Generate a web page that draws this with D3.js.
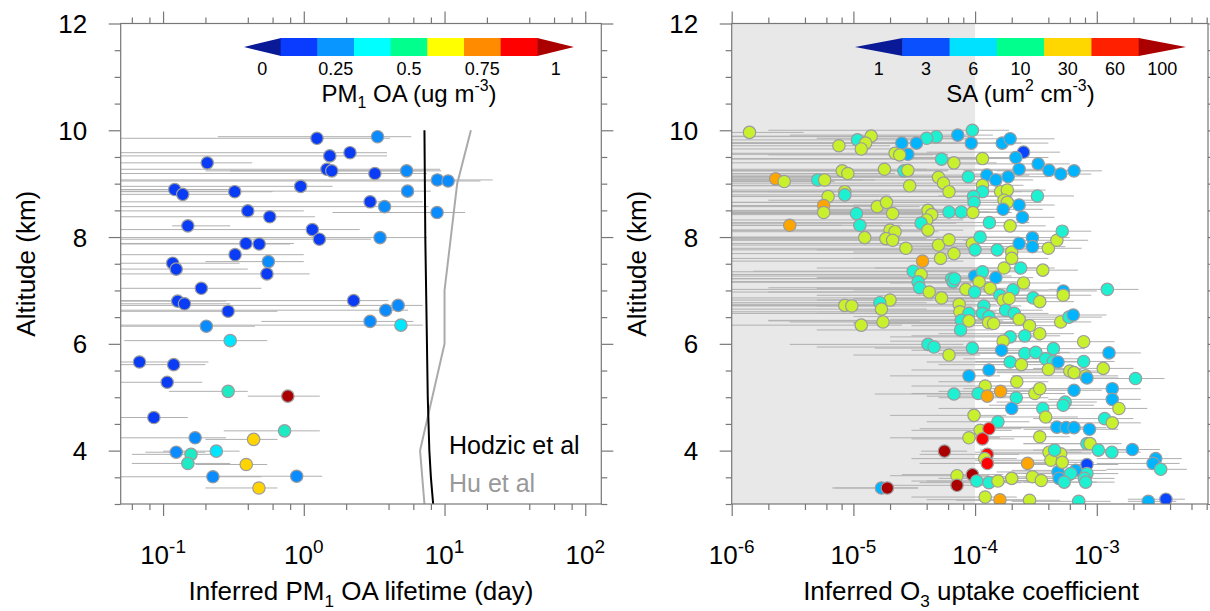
<!DOCTYPE html>
<html>
<head>
<meta charset="utf-8">
<script src="https://cdn.jsdelivr.net/npm/d3@7"></script>
<style>
body{margin:0;background:#fff}
text{font-family:"Liberation Sans",Arial,Helvetica,sans-serif}
</style>
</head>
<body>
<div id="chart"></div>
<script>
// axis ticks
var altMajor = [4, 6, 8, 10, 12];
var altMinor = [3, 3.5, 4.5, 5, 5.5, 6.5, 7, 7.5, 8.5, 9, 9.5, 10.5, 11, 11.5];
var lifeMajor = [0.1, 1, 10, 100];
var lifeExp = ["-1", "0", "1", "2"];
var lifeMinor = [0.06, 0.08, 0.2, 0.4, 0.6, 0.8, 2, 4, 6, 8, 20, 40, 60, 80];
var gammaMajor = [1e-6, 1e-5, 1e-4, 1e-3];
var gammaExp = ["-6", "-5", "-4", "-3"];
var gammaMinor = [2e-6, 4e-6, 6e-6, 8e-6, 2e-5, 4e-5, 6e-5, 8e-5, 2e-4, 4e-4, 6e-4, 8e-4, 2e-3, 4e-3, 6e-3, 8e-3];

// model lifetimes (day)
var hodzicAlt = [3, 3.5, 4, 5, 6, 8, 10];
var hodzicLife = [8.3, 8.0, 7.8, 7.6, 7.5, 7.3, 7.2];
var huAlt = [3, 4, 6, 7, 9, 10];
var huLife = [7.2, 6.7, 10, 10, 12.3, 15.4];

// colour bars
var oaBarColors = ["#0a1a96", "#0a3cff", "#0a96ff", "#00ffff", "#00ff8c", "#ffff00", "#ff8c00", "#ff0000", "#aa0000"];
var oaBarLabels = ["0", "", "0.25", "", "0.5", "", "0.75", "", "1"];
var oaBreaks = [0.06, 0.18, 0.3, 0.42, 0.56, 0.8, 0.9];
var oaDotColors = ["#0a1a96", "#0a3cf5", "#0a8cff", "#00e6ff", "#1eebc3", "#ffd400", "#ff1a00", "#aa0000"];
var saBarColors = ["#0a1a96", "#0a50ff", "#00e1ff", "#00ff8c", "#ffd700", "#ff2000", "#aa0000"];
var saBarLabels = ["1", "3", "6", "10", "30", "60", "100"];
var saBreaks = [2, 4, 7, 12, 35, 70, 110];
var saDotColors = ["#0a1a96", "#0a46ff", "#00b4ff", "#1ef0d2", "#c8f02d", "#ffa500", "#ff0000", "#aa0000"];

// [altitude km, OA lifetime day, low, high, PM1 OA ug m-3]
var oaObs = [
[9.85,1.24,0.01,4.1,0.12],[9.88,3.34,0.245,5.8,0.24],[9.58,2.13,0.01,3.9,0.12],[9.52,1.53,0.01,3.9,0.12],
[9.39,0.206,0.01,0.43,0.12],[9.27,1.46,0.01,9.3,0.12],[9.24,1.58,0.3,7,0.12],[9.19,3.2,0.01,7.5,0.12],
[9.24,5.38,0.2,9.5,0.24],[9.07,8.9,0.01,22,0.24],[9.05,10.6,0.01,18,0.24],[8.95,0.95,0.01,1.6,0.12],
[8.89,0.121,0.01,0.3,0.12],[8.80,0.138,0.01,0.35,0.12],[8.85,0.323,0.01,0.6,0.12],[8.86,5.46,0.01,8,0.24],
[8.66,2.96,0.01,7,0.12],[8.57,3.75,0.01,7.7,0.24],[8.46,8.85,1.6,14,0.24],[8.49,0.40,0.01,1.0,0.12],
[8.38,0.573,0.01,1.2,0.12],[8.21,0.150,0.116,0.3,0.12],[8.14,1.15,0.01,2.5,0.12],[7.96,1.29,0.01,3,0.12],
[7.99,3.48,0.01,7.5,0.24],[7.88,0.388,0.01,0.85,0.12],[7.87,0.482,0.01,0.8,0.12],[7.67,0.325,0.01,1.0,0.12],
[7.54,0.56,0.2,1.0,0.24],[7.51,0.117,0.01,0.35,0.12],[7.40,0.124,0.01,0.4,0.12],[7.31,0.547,0.01,1.1,0.12],
[7.04,0.187,0.01,0.5,0.12],[6.80,0.127,0.01,0.28,0.12],[6.75,0.142,0.01,0.3,0.12],[6.81,2.26,0.01,4,0.12],
[6.72,4.68,0.01,7,0.24],[6.63,3.82,0.01,5.5,0.24],[6.61,0.29,0.01,0.65,0.12],[6.42,2.96,0.5,6,0.24],
[6.35,4.9,0.01,7,0.36],[6.33,0.203,0.01,0.45,0.24],[6.06,0.30,0.053,0.55,0.36],[5.66,0.068,0.01,0.21,0.12],
[5.61,0.119,0.01,0.2,0.12],[5.28,0.107,0.01,0.19,0.12],[5.11,0.29,0.11,0.4,0.48],[5.02,0.77,0.4,1.3,0.96],
[4.62,0.086,0.01,0.15,0.12],[4.37,0.73,0.27,1.3,0.48],[4.24,0.169,0.01,0.28,0.24],[4.21,0.44,0.2,0.65,0.68],
[3.97,0.124,0.075,0.2,0.24],[3.93,0.158,0.06,0.25,0.48],[3.99,0.239,0.1,0.35,0.36],[3.76,0.150,0.06,0.3,0.48],
[3.74,0.39,0.17,0.55,0.68],[3.51,0.226,0.01,0.5,0.24],[3.52,0.89,0.25,1.35,0.24],[3.30,0.48,0.2,0.65,0.68]
];

// [altitude km, O3 uptake coefficient, low, high, SA um2 cm-3]
var o3Obs = [
[9.96,1.4e-6,1e-7,3.9e-6,20],[10.0,9.5e-5,2e-6,1.9e-4,9],[9.91,7.2e-5,3e-6,1.4e-4,5],[9.76,9.3e-5,1e-7,2.4e-4,5],
[9.88,4.8e-5,1e-7,9e-5,9],[9.85,4.0e-5,5e-6,8e-5,9],[9.76,3.3e-5,1e-7,7e-5,5],[9.76,2.5e-5,1e-7,5e-5,5],
[9.55,2.8e-5,1e-7,6e-5,5],[9.57,2.2e-5,1e-7,5e-5,20],[9.54,2.4e-5,2e-6,4.5e-5,20],[9.89,1.4e-5,1e-7,4e-5,20],
[9.82,1.08e-5,1e-7,3e-5,9],[9.76,1.26e-5,1e-7,3.5e-5,20],[9.65,1.16e-5,1e-7,3e-5,20],[9.71,7.6e-6,1e-7,2e-5,20],
[9.76,1.67e-4,2e-5,4e-4,5],[9.84,1.94e-4,3e-5,4.5e-4,5],[9.59,2.5e-4,4e-5,5e-4,3],[9.49,2.16e-4,2e-5,4e-4,5],
[9.27,2.3e-4,3e-5,5e-4,5],[9.37,3.3e-4,6e-5,6e-4,5],[9.25,4.05e-4,8e-5,7e-4,5],[9.18,5.05e-4,1e-4,9e-4,5],
[9.24,6.5e-4,1.5e-4,1.1e-3,5],[9.47,1.15e-4,1e-7,2.5e-4,20],[9.39,6.7e-5,1e-7,1.5e-4,20],[9.46,5.3e-5,1e-7,1.1e-4,9],
[9.27,1.8e-5,1e-7,4e-5,20],[9.24,2.6e-5,1e-7,6e-5,9],[9.25,2.8e-5,1e-7,6e-5,20],[9.24,8.1e-6,1e-7,2.5e-5,20],
[9.19,9.0e-6,1e-7,2.2e-5,20],[9.09,2.3e-6,1e-7,6e-6,50],[9.04,2.7e-6,1e-7,7e-6,20],[9.07,5.1e-6,1e-7,1.2e-5,9],
[9.07,5.8e-6,1e-7,1.5e-5,20],[8.96,2.9e-5,1e-7,6e-5,20],[9.12,5.0e-5,1e-7,1e-4,20],[9.01,5.5e-5,1e-7,1.1e-4,20],
[8.85,6.1e-5,1e-7,1.3e-4,20],[9.13,8.8e-5,1e-7,1.8e-4,9],[9.16,1.25e-4,1e-7,2.8e-4,5],[9.07,1.48e-4,1e-6,3e-4,5],
[9.13,1.87e-4,1e-6,4e-4,5],[8.97,1.15e-4,1e-7,2.5e-4,20],[8.85,1.15e-4,2e-6,2.4e-4,9],[8.76,9.7e-5,1e-7,2e-4,9],
[8.65,9.8e-5,1e-7,2e-4,9],[8.85,1.62e-4,1e-6,3.5e-4,20],[8.88,1.84e-4,1e-6,3.8e-4,20],[8.69,1.73e-4,2e-6,3.6e-4,20],
[8.65,1.84e-4,5e-6,3.5e-4,20],[8.52,1.7e-4,5e-6,3.6e-4,5],[8.60,2.3e-4,1e-5,4.5e-4,5],[8.37,2.45e-4,1e-5,4.5e-4,5],
[8.77,3.25e-4,5e-5,6.5e-4,9],[8.76,6.2e-6,1e-7,1.6e-5,20],[8.85,8.5e-6,1e-7,2e-5,20],[8.79,8.5e-6,1e-7,2e-5,9],
[8.59,5.7e-6,1e-7,1.5e-5,50],[8.46,5.7e-6,1e-7,1.5e-5,20],[8.22,3.0e-6,1e-7,8e-6,50],[8.57,1.57e-5,1e-7,3.5e-5,20],
[8.65,1.87e-5,1e-7,4e-5,20],[8.44,2.1e-5,1e-7,4.5e-5,20],[8.44,1.06e-5,1e-7,2.5e-5,9],[8.22,1.13e-5,1e-7,2.5e-5,9],
[7.99,1.24e-5,1e-7,3e-5,20],[8.50,4.1e-5,1e-7,9e-5,20],[8.42,4.4e-5,1e-7,9e-5,20],[8.32,4.0e-5,1e-7,8e-5,20],
[8.26,3.6e-5,1e-7,7e-5,9],[8.13,4.1e-5,1e-7,8e-5,20],[8.47,6.1e-5,1e-7,1.3e-4,9],[8.47,7.7e-5,1e-7,1.6e-4,9],
[8.46,9.6e-5,1e-7,2e-4,20],[8.27,1.31e-4,1e-6,2.8e-4,9],[8.21,1.94e-4,1e-5,3.8e-4,20],[8.13,2.0e-5,1e-7,4.5e-5,20],
[8.10,2.2e-5,1e-7,5e-5,20],[7.97,1.85e-5,1e-7,4e-5,20],[7.94,2.1e-5,1e-7,4.5e-5,20],[7.79,2.7e-5,1e-7,6e-5,20],
[7.85,5.0e-5,1e-7,1e-4,20],[7.95,6.1e-5,1e-7,1.2e-4,20],[7.69,6.7e-5,1e-7,1.4e-4,20],[7.88,9.5e-5,1e-7,2e-4,20],
[8.00,1.1e-4,1e-6,2.3e-4,9],[7.76,1.0e-4,1e-6,2.1e-4,9],[7.76,1.52e-4,5e-6,3.2e-4,9],[7.72,2.0e-4,1e-5,4e-4,20],
[7.88,2.3e-4,1e-5,4.5e-4,5],[7.99,2.96e-4,3e-5,6e-4,5],[7.82,2.96e-4,3e-5,5.5e-4,5],[7.79,4.0e-4,5e-5,7.5e-4,20],
[7.94,4.7e-4,8e-5,8.5e-4,20],[8.11,5.2e-4,1e-4,9e-4,9],
[7.60,5.2e-5,1e-7,1.1e-4,20],[7.55,3.7e-5,1e-7,8e-5,50],[7.36,3.1e-5,1.5e-6,7e-5,9],[7.30,3.6e-5,1e-7,7.5e-5,20],
[7.16,3.4e-5,1e-7,7e-5,9],[7.05,3.5e-5,2e-6,7e-5,9],[6.97,4.2e-5,1e-7,9e-5,20],[6.86,5.3e-5,1e-7,1.1e-4,20],
[6.82,2.0e-5,1e-7,4.5e-5,20],[6.77,1.65e-5,1e-7,4e-5,9],[6.65,1.7e-5,1e-7,4e-5,20],[6.41,1.75e-5,3e-6,3.5e-5,20],
[6.72,8.5e-6,1e-7,2e-5,20],[6.71,9.7e-6,1e-7,2.2e-5,20],[6.35,1.16e-5,1e-6,2.5e-5,20],[7.22,6.4e-5,1e-7,1.3e-4,9],
[7.16,6.6e-5,1e-7,1.3e-4,9],[7.22,6.8e-5,1e-7,1.4e-4,9],[7.02,8.4e-5,1e-7,1.7e-4,20],[7.27,9.9e-5,1e-6,2e-4,5],
[7.35,1.15e-4,1e-6,2.3e-4,9],[7.16,1.08e-4,1e-6,2.2e-4,20],[7.24,1.48e-4,5e-6,3e-4,5],[7.04,1.33e-4,5e-6,2.8e-4,20],
[6.97,9.9e-5,2e-6,2e-4,9],[7.42,1.73e-4,5e-6,3.5e-4,20],[7.60,2.0e-4,1e-5,4e-4,20],[7.42,2.37e-4,1.5e-5,4.5e-4,9],
[7.38,3.6e-4,4e-5,7e-4,20],[7.14,2.5e-4,2e-5,5e-4,20],[7.01,2.05e-4,1e-5,4e-4,9],[6.91,1.6e-4,5e-6,3.2e-4,9],
[6.82,1.7e-4,5e-6,3.4e-4,20],[6.85,1.9e-4,1e-5,3.8e-4,20],[6.74,7.4e-5,1e-7,1.5e-4,20],[6.60,7.5e-5,1e-6,1.5e-4,20],
[6.57,8.9e-5,1e-6,1.8e-4,9],[6.44,7.7e-5,2e-6,1.5e-4,9],[6.43,8.9e-5,2e-6,1.7e-4,20],[6.26,7.6e-5,5e-6,1.4e-4,9],
[6.71,1.18e-4,5e-6,2.4e-4,9],[6.57,1.15e-4,5e-6,2.3e-4,9],[6.51,1.3e-4,1e-5,2.6e-4,9],[6.40,1.29e-4,1e-5,2.5e-4,20],
[6.38,1.42e-4,1e-5,2.8e-4,20],[6.63,1.78e-4,1e-5,3.6e-4,9],[6.57,2.1e-4,2e-5,4e-4,9],[6.46,2.3e-4,2e-5,4.5e-4,20],
[6.34,2.8e-4,3e-5,5.5e-4,20],[6.19,3.4e-4,5e-5,6.5e-4,20],[6.86,3.0e-4,4e-5,6e-4,9],[6.79,3.4e-4,5e-5,6.5e-4,20],
[6.99,5.3e-4,1e-4,1e-3,5],[6.91,5.3e-4,1e-4,9e-4,20],[7.02,1.22e-3,4e-4,2.2e-3,9],[6.41,5.05e-4,1e-4,9e-4,20],
[6.50,5.9e-4,1.2e-4,1.1e-3,9],[6.54,6.4e-4,1.5e-4,1.2e-3,5],[6.13,1.94e-4,2e-5,3.8e-4,9],[6.05,1.7e-4,2e-5,3.5e-4,20],
[6.15,2.56e-4,3e-5,5e-4,9],[5.99,4.1e-5,3e-6,8e-5,9],[5.94,4.6e-5,5e-6,9e-5,9],[5.79,6.1e-5,1e-5,1.1e-4,20],
[5.92,9.5e-5,1.5e-5,1.8e-4,9],[5.88,1.65e-4,3e-5,3.2e-4,5],[5.82,2.56e-4,5e-5,5e-4,9],[5.84,3.15e-4,6e-5,6e-4,9],
[5.91,4.4e-4,1e-4,8e-4,9],[5.72,3.8e-4,8e-5,7e-4,9],[5.67,4.4e-4,1e-4,8e-4,9],[5.66,4.8e-4,1e-4,8.5e-4,5],
[6.04,7.8e-4,2e-4,1.4e-3,20],[5.83,1.26e-3,4e-4,2.3e-3,5],[5.67,7.8e-4,2e-4,1.4e-3,9],[5.66,1.94e-4,4e-5,3.8e-4,9],
[5.61,2.4e-4,5e-5,4.5e-4,20],[5.52,4.0e-4,1e-4,7.5e-4,20],[5.49,6.0e-4,1.5e-4,1.1e-3,20],[5.46,6.5e-4,1.5e-4,1.2e-3,20],
[5.40,8.1e-4,2e-4,1.5e-3,20],[5.36,8.3e-4,2e-4,1.5e-3,5],[5.54,1.13e-3,3e-4,2e-3,20],[5.35,2.08e-3,6e-4,3.6e-3,9],
[5.40,8.9e-5,2e-5,1.6e-4,5],[5.51,1.3e-4,3e-5,2.4e-4,5],
[5.21,1.21e-4,3e-5,2.3e-4,20],[5.29,2.2e-4,5e-5,4e-4,20],[5.06,6.7e-5,1.5e-5,1.2e-4,9],[5.07,1.06e-4,3e-5,2e-4,9],
[5.02,1.26e-4,4e-5,2.3e-4,50],[5.11,1.62e-4,5e-5,3e-4,50],[4.99,2.18e-4,5e-5,4e-4,9],[4.79,2.0e-4,5e-5,3.8e-4,5],
[5.07,3.1e-4,8e-5,5.5e-4,20],[5.16,3.4e-4,8e-5,6e-4,20],[4.79,3.6e-4,9e-5,6.5e-4,9],[4.63,3.8e-4,1e-4,7e-4,20],
[4.91,5.5e-4,1.5e-4,1e-3,9],[4.85,5.3e-4,1.3e-4,9.5e-4,9],[5.13,6.5e-4,1.5e-4,1.1e-3,5],[5.16,1.34e-3,4e-4,2.3e-3,5],
[4.96,1.34e-3,4e-4,2.3e-3,5],[4.79,1.52e-3,5e-4,2.6e-3,20],[4.60,1.16e-3,3e-4,2e-3,9],[4.52,1.34e-3,4e-4,2.3e-3,20],
[4.44,4.7e-4,1.2e-4,8.5e-4,5],[4.43,5.6e-4,1.4e-4,1e-3,5],[4.43,6.5e-4,1.6e-4,1.2e-3,5],[4.40,8.7e-4,2.5e-4,1.5e-3,5],
[4.13,8.3e-4,2.5e-4,1.5e-3,9],[4.13,8.8e-4,2.5e-4,1.6e-3,20],[4.01,1.03e-3,3e-4,1.8e-3,9],[3.97,1.33e-3,4e-4,2.3e-3,9],
[4.02,1.96e-3,6e-4,3.3e-3,5],[3.85,3.05e-3,1e-3,5e-3,5],[3.76,2.9e-3,1e-3,4.8e-3,5],[3.65,3.35e-3,1.2e-3,5.5e-3,9],
[3.74,8.3e-4,2.5e-4,1.5e-3,3],[3.63,6.7e-4,2e-4,1.2e-3,5],[3.57,6.1e-4,2e-4,1.1e-3,9],[3.57,8.3e-4,2.5e-4,1.5e-3,9],
[3.48,7.9e-4,2.5e-4,1.4e-3,9],[3.41,8.1e-4,2.5e-4,1.4e-3,9],[3.60,4.8e-4,1.5e-4,9e-4,5],[3.48,4.9e-4,1.5e-4,9e-4,5],
[3.41,5.4e-4,1.5e-4,1e-3,9],[3.97,4.05e-4,1e-4,7.5e-4,20],[3.94,5.05e-4,1.2e-4,9e-4,20],[3.82,4.2e-4,1e-4,8e-4,20],
[3.78,5.2e-4,1.3e-4,9.5e-4,20],[4.01,4.5e-4,1.1e-4,8e-4,9],[4.26,3.4e-4,8e-5,6e-4,20],[4.54,1.54e-4,4e-5,2.8e-4,9],
[4.66,9.8e-5,2e-5,1.8e-4,20],[4.38,1.1e-4,3e-5,2e-4,20],[4.41,1.3e-4,3.5e-5,2.4e-4,80],[4.24,8.9e-5,2e-5,1.6e-4,20],
[4.22,1.15e-4,3e-5,2.1e-4,80],[3.99,5.6e-5,3.6e-5,8.6e-5,130],[3.93,1.26e-4,3.5e-5,2.3e-4,80],[3.85,1.2e-4,3e-5,2.2e-4,20],
[3.76,1.26e-4,3.5e-5,2.3e-4,80],[3.76,2.7e-4,7e-5,5e-4,50],[3.53,7.1e-5,2e-5,1.3e-4,20],[3.55,9.5e-5,2.5e-5,1.7e-4,130],
[3.35,7.1e-5,2e-5,1.3e-4,130],[3.43,1.03e-4,3e-5,1.9e-4,9],[3.40,1.3e-4,3.5e-5,2.4e-4,9],[3.43,1.54e-4,4e-5,2.8e-4,20],
[3.48,2.0e-4,5e-5,3.6e-4,20],[3.51,2.96e-4,8e-5,5.4e-4,20],[3.44,3.5e-4,9e-5,6.3e-4,20],[3.30,1.7e-5,6.7e-6,3.4e-5,5],
[3.30,1.9e-5,7e-6,3.4e-5,130],[3.13,1.21e-4,3e-5,2.2e-4,20],[3.08,1.6e-4,4e-5,2.9e-4,50],[3.07,2.8e-4,7e-5,5e-4,20],
[3.05,7.1e-4,2e-4,1.3e-3,9],[3.05,2.65e-3,1.8e-3,4.5e-3,5],[3.09,3.7e-3,1.8e-3,5.3e-3,3]
];

var W = 1210, H = 611;
var plotTop = 23.5, plotBottom = 504;

var svg = d3.select("#chart").append("svg").attr("width", W).attr("height", H);

var y = d3.scaleLinear().domain([3, 12]).range([plotBottom, plotTop]);
var xL = d3.scaleLog().domain([0.05, 130]).range([120.7, 601.3]);
var xR = d3.scaleLog().domain([1e-6, 8.2e-3]).range([731.7, 1208]);

var oaColor = d3.scaleThreshold().domain(oaBreaks).range(oaDotColors);
var saColor = d3.scaleThreshold().domain(saBreaks).range(saDotColors);

function rich(sel, parts, size, ratio){
  var shift = 0;
  parts.forEach(function(p){
    var target = p[1] == "sub" ? size*0.28 : p[1] == "sup" ? -size*0.42 : 0;
    sel.append("tspan").attr("dy", target - shift).attr("font-size", p[1] ? size*(ratio||0.66) : size).text(p[0]);
    shift = target;
  });
}

function scatter(x, rows, color, id){
  var x0 = x.range()[0], x1 = x.range()[1];
  svg.append("clipPath").attr("id", id).append("rect")
     .attr("x", x0).attr("y", plotTop).attr("width", x1 - x0).attr("height", plotBottom - plotTop);
  var g = svg.append("g").attr("clip-path", "url(#" + id + ")");
  g.selectAll("line.err").data(rows).enter().append("line")
     .attr("class", "err")
     .attr("x1", function(d){ return x(d[2]); })
     .attr("x2", function(d){ return x(d[3]); })
     .attr("y1", function(d){ return y(d[0]); })
     .attr("y2", function(d){ return y(d[0]); })
     .attr("stroke", "#b0b0b0").attr("stroke-width", 1);
  g.selectAll("circle").data(rows).enter().append("circle")
     .attr("cx", function(d){ return x(d[1]); })
     .attr("cy", function(d){ return y(d[0]); })
     .attr("r", 6.2)
     .attr("fill", function(d){ return color(d[4]); })
     .attr("stroke", "#9c9c9c").attr("stroke-width", 1.2);
  return g;
}

function frame(x, major, minor, exps){
  var x0 = x.range()[0], x1 = x.range()[1];
  function add(axis, tr){
    var g = svg.append("g").attr("transform", tr).call(axis);
    g.select(".domain").remove();
    g.selectAll("text").remove();
    g.selectAll("line").attr("stroke", "#777").attr("stroke-width", 1.2);
  }
  [[major, 12], [minor, 6]].forEach(function(t){
    add(d3.axisBottom(x).tickValues(t[0]).tickSize(t[1]), "translate(0," + plotBottom + ")");
    add(d3.axisTop(x).tickValues(t[0]).tickSize(t[1]), "translate(0," + plotTop + ")");
  });
  [[altMajor, 12], [altMinor, 6]].forEach(function(t){
    add(d3.axisLeft(y).tickValues(t[0]).tickSize(t[1]), "translate(" + x0 + ",0)");
    add(d3.axisRight(y).tickValues(t[0]).tickSize(t[1]), "translate(" + x1 + ",0)");
  });
  svg.append("rect").attr("x", x0).attr("y", plotTop).attr("width", x1 - x0).attr("height", plotBottom - plotTop)
     .attr("fill", "none").attr("stroke", "#777").attr("stroke-width", 1.2);

  major.forEach(function(v, i){
    var t = svg.append("text").attr("x", x(v)).attr("y", 564).attr("text-anchor", "middle").attr("fill", "#000");
    rich(t, [["10", ""], [exps[i], "sup"]], 26, 0.73);
  });
  altMajor.forEach(function(v){
    svg.append("text").attr("x", x0 - 33.5).attr("y", y(v) + 9.5).attr("text-anchor", "end")
       .attr("font-size", 26).text(v);
  });
  svg.append("text").attr("transform", "translate(" + (x0 - 86) + "," + ((plotTop + plotBottom) / 2) + ") rotate(-90)")
     .attr("text-anchor", "middle").attr("font-size", 26).text("Altitude (km)");
}

function colorbar(colors, labels, x0, x1, title){
  var n = colors.length, top = 38, h = 18;
  var band = d3.scaleBand().domain(d3.range(n)).range([x0, x1]);
  var w = band.bandwidth();
  colors.forEach(function(c, i){
    var a = band(i), b = a + w, pts;
    if (i == 0) pts = [[a, top + h/2], [b + 0.5, top], [b + 0.5, top + h]];
    else if (i == n - 1) pts = [[a, top], [b, top + h/2], [a, top + h]];
    else pts = [[a, top], [b + 0.5, top], [b + 0.5, top + h], [a, top + h]];
    svg.append("polygon").attr("points", pts.join(" ")).attr("fill", c);
  });
  labels.forEach(function(l, i){
    if (!l) return;
    svg.append("text").attr("x", band(i) + w/2).attr("y", 75).attr("text-anchor", "middle")
       .attr("font-size", 18).text(l);
  });
  var t = svg.append("text").attr("x", (x0 + x1) / 2).attr("y", 101.5).attr("text-anchor", "middle");
  rich(t, title, 24);
}

// ---- left panel: OA lifetime
scatter(xL, oaObs, oaColor, "clipL");

var line = function(x){
  return d3.line().x(function(d){ return x(d[1]); }).y(function(d){ return y(d[0]); });
};
svg.append("path").datum(d3.zip(huAlt, huLife)).attr("d", line(xL))
   .attr("fill", "none").attr("stroke", "#aaa").attr("stroke-width", 2);
svg.append("path").datum(d3.zip(hodzicAlt, hodzicLife)).attr("d", line(xL))
   .attr("fill", "none").attr("stroke", "#000").attr("stroke-width", 2);

svg.append("text").attr("x", 449).attr("y", 454).attr("font-size", 25).attr("fill", "#000").text("Hodzic et al");
svg.append("text").attr("x", 449).attr("y", 491.5).attr("font-size", 25).attr("fill", "#999").text("Hu et al");

frame(xL, lifeMajor, lifeMinor, lifeExp);
colorbar(oaBarColors, oaBarLabels, 244, 574, [["PM", ""], ["1", "sub"], [" OA (ug m", ""], ["-3", "sup"], [")", ""]]);

var tl = svg.append("text").attr("x", d3.mean(xL.range())).attr("y", 600).attr("text-anchor", "middle");
rich(tl, [["Inferred PM", ""], ["1", "sub"], [" OA lifetime (day)", ""]], 26);

// ---- right panel: O3 uptake coefficient
svg.append("rect").attr("x", xR(1e-6)).attr("y", plotTop)
   .attr("width", xR(1e-4) - xR(1e-6)).attr("height", plotBottom - plotTop).attr("fill", "#e8e8e8");
scatter(xR, o3Obs, saColor, "clipR");

frame(xR, gammaMajor, gammaMinor, gammaExp);
colorbar(saBarColors, saBarLabels, 855, 1186, [["SA (um", ""], ["2", "sup"], [" cm", ""], ["-3", "sup"], [")", ""]]);

var tr = svg.append("text").attr("x", 971).attr("y", 600).attr("text-anchor", "middle");
rich(tr, [["Inferred O", ""], ["3", "sub"], [" uptake coefficient", ""]], 26);
</script>
</body>
</html>
